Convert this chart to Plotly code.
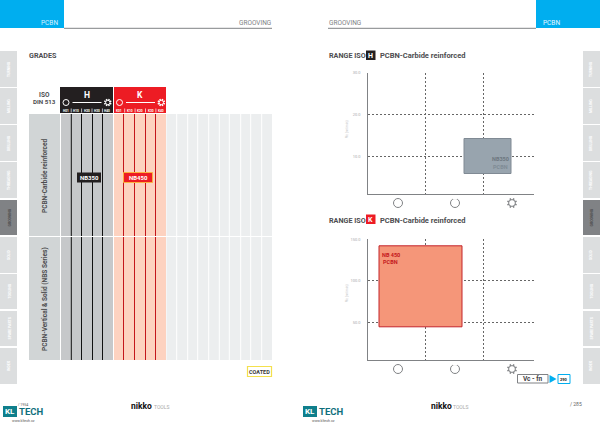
import math
import plotly.graph_objects as go

W, H = 600, 424
FONT = "Roboto"

# ---- data -------------------------------------------------------------
h_ticks = [10, 20, 30]
h_tick_text = ["10.0", "20.0", "30.0"]
k_ticks = [50, 100, 150]
k_tick_text = ["50.0", "100.0", "150.0"]
h_range_x = [1.67, 2.49]
h_range_y = [5.8, 14.1]
k_range_x = [0.20, 1.64]
k_range_y = [43.5, 141.6]
grade_h = "NB350"
grade_k = "NB450"
rows = ["PCBN-Carbide reinforced", "PCBN-Vertical & Solid (NBS Series)"]
h_sub = ["H01", "H10", "H20", "H30", "H40"]
k_sub = ["K01", "K10", "K20", "K30", "K40"]
tabs_left = ["TURNING", "MILLING", "DRILLING", "THREADING", "GROOVING", "SOLID", "TOOLING", "SPARE PARTS", "INDEX"]
tab_tops = [51, 88, 125, 162, 200, 237, 274, 311, 348]
tab_bottoms = [87, 124, 161, 198, 235, 273, 309, 346, 384]
active_tab = 4

def px(x): return x / W
def py(y): return 1 - y / H

shapes, annots = [], []

def rect(x0, y0, x1, y1, fill="rgba(0,0,0,0)", line=None, lw=0, layer="below"):
    shapes.append(dict(type="rect", xref="paper", yref="paper", x0=px(x0), x1=px(x1), y0=py(y0), y1=py(y1),
                       fillcolor=fill, layer=layer, line=dict(color=line or "rgba(0,0,0,0)", width=lw)))

def hline(x0, x1, y, color, w=1, layer="below"):
    shapes.append(dict(type="line", xref="paper", yref="paper", x0=px(x0), x1=px(x1), y0=py(y), y1=py(y),
                       layer=layer, line=dict(color=color, width=w)))

def vline(x, y0, y1, color, w=1, layer="below"):
    shapes.append(dict(type="line", xref="paper", yref="paper", x0=px(x), x1=px(x), y0=py(y0), y1=py(y1),
                       layer=layer, line=dict(color=color, width=w)))

def seg(x0, y0, x1, y1, color, w=1, layer="above"):
    shapes.append(dict(type="line", xref="paper", yref="paper", x0=px(x0), x1=px(x1), y0=py(y0), y1=py(y1),
                       layer=layer, line=dict(color=color, width=w)))

def text(x, y, t, size=8, color="#555", bold=False, anchor="center", angle=0, font=FONT):
    # annotations carry about 2 px of padding on the anchored side
    x = x - 2 if anchor == "left" else x + 1.5 if anchor == "right" else x
    annots.append(dict(xref="paper", yref="paper", x=px(x), y=py(y), text=f"<b>{t}</b>" if bold else t,
                       showarrow=False, xanchor=anchor, yanchor="middle", textangle=angle,
                       font=dict(family=font, size=size, color=color)))

def circle(cx, cy, r, line, w=1, fill="white", layer="above"):
    shapes.append(dict(type="circle", xref="paper", yref="paper", x0=px(cx - r), x1=px(cx + r),
                       y0=py(cy + r), y1=py(cy - r), layer=layer, fillcolor=fill, line=dict(color=line, width=w)))

def gear(cx, cy, r, color, w=1):
    for k in range(8):
        a = math.pi / 8 + k * math.pi / 4
        seg(cx + r * math.cos(a), cy + r * math.sin(a),
            cx + (r + 1.6) * math.cos(a), cy + (r + 1.6) * math.sin(a), color, w + 0.5)
    circle(cx, cy, r, color, w, fill="rgba(0,0,0,0)")

BLUE = "#00aeef"
DARK = "#4d4d4f"
# header bands
rect(0, 0, 64, 28, BLUE)
rect(536, 0, 600, 28, BLUE)
hline(64, 272, 28.3, "#808285", 1)
hline(328, 536, 28.3, "#808285", 1)
text(49, 23, "PCBN", 6.5, "#d5f1ff")
text(551, 23, "PCBN", 6.5, "#e5f7ff")
text(271, 23, "GROOVING", 6.5, "#808285", anchor="right")
text(329, 23, "GROOVING", 6.5, "#808285", anchor="left")

# side tabs
for i, (t, b, lab) in enumerate(zip(tab_tops, tab_bottoms, tabs_left)):
    active = i == active_tab
    c = "#808285" if active else "#dcdedf"
    tc = "#4a4a4a" if active else "#ffffff"
    rect(0, t, 17, b, c)
    rect(583, t, 600, b, c)
    text(9, (t + b) / 2, lab, 3.5, tc, bold=True, angle=-90)
    text(591, (t + b) / 2, lab, 3.5, tc, bold=True, angle=-90)

# grades table
text(29, 56, "GRADES", 7.2, DARK, bold=True, anchor="left")
text(44, 95, "ISO", 6.5, DARK, bold=True)
text(44, 102.5, "DIN 513", 6.2, DARK, bold=True)
rect(29, 114, 60, 360, "#d1d5d6")
rect(61, 114, 113, 360, "#c6c8ca")
rect(114, 114, 166, 360, "#fdd2c0")
rect(166.5, 114, 272, 360, "#eceeef")
for x in [176.7, 187.7, 197.7, 208.7, 219.3, 229.3, 240.7, 250.7, 261.7]:
    vline(x, 114, 360, "white", 1)
for x in [71.3, 81.5, 92.5, 102.5]:
    vline(x, 114, 360, "#111111", 1)
for x in [123.5, 134.5, 145.5, 155.5]:
    vline(x, 114, 360, "#c4161c", 1)
hline(29, 272, 236.5, "white", 1, layer="above")

rect(60, 87, 113, 113, "#231f20")
rect(114, 87, 166, 113, "#ed1c24")
text(87, 95, "H", 8.5, "white", bold=True)
text(140, 95, "K", 8.5, "white", bold=True)
for x0, col, subs in [(60.5, "#231f20", h_sub), (114, "#ed1c24", k_sub)]:
    circle(x0 + 5.5, 102.5, 3, "white", 1, fill=col)
    hline(x0 + 12, x0 + 41, 102.5, "white", 1, layer="above")
    gear(x0 + 47.3, 102.5, 2.2, "white", 1)
    for j, s in enumerate(subs):
        text(x0 + 5.3 + j * 10.4, 110.5, s, 3.2, "white", bold=True)
    for j in range(1, 5):
        vline(x0 + 0.3 + j * 10.4, 108.5, 112.5, "white", 0.7, layer="above")

rect(77, 172.5, 101, 182.5, "#231f20", layer="above")
text(89, 177.5, grade_h, 6, "white", bold=True)
rect(123.5, 172.5, 152.5, 182.5, "#ed1c24", "#fbb040", 1, layer="above")
text(138, 177.5, grade_k, 6, "white", bold=True)
text(45, 176, rows[0], 6.5, DARK, bold=True, angle=-90)
text(45, 299, rows[1], 6.5, DARK, bold=True, angle=-90)
rect(247.5, 366.5, 271.5, 376.5, "#ffffff", "#f4e04d", 1.2)
text(259.5, 371.5, "COATED", 5.5, "#3a3a3a", bold=True)

# right chart titles
text(329, 56, "RANGE ISO", 7.2, DARK, bold=True, anchor="left")
rect(366, 50.5, 375.5, 60, "#231f20")
text(370.7, 55.5, "H", 7, "white", bold=True)
text(380, 56, "PCBN-Carbide reinforced", 7.5, DARK, bold=True, anchor="left")
text(329, 220, "RANGE ISO", 7.2, DARK, bold=True, anchor="left")
rect(366, 214.5, 375.5, 224, "#ed1c24")
text(370.7, 219.5, "K", 7, "white", bold=True)
text(380, 220, "PCBN-Carbide reinforced", 7.5, DARK, bold=True, anchor="left")

# axis titles
text(347, 129, "Vc (m/min)", 3.5, "#bcbec0", angle=-90)
text(347, 293, "Vc (m/min)", 3.5, "#bcbec0", angle=-90)

# material icons under the charts
for y in [203, 369]:
    circle(398, y, 4.5, "#808285", 1)
    circle(455, y, 4.5, "#808285", 1)
    hline(452.5, 457.5, y - 4.5, "white", 1.5, layer="above")
    gear(512, y, 3.4, "#808285", 1)

# reference box
rect(517.5, 374.5, 548, 383, "white", "#808285", 1)
text(533, 378.8, "Vc - fn", 6.5, "#414042", bold=True)
shapes.append(dict(type="path", xref="paper", yref="paper",
                   path=f"M {px(549.5)} {py(375)} L {px(556.5)} {py(379)} L {px(549.5)} {py(383)} Z",
                   fillcolor=BLUE, line=dict(width=0), layer="above"))
rect(558, 374.5, 570, 383.5, "white", BLUE, 1)
text(564, 379, "290", 4, "#222", bold=True)

# footer
for off in [0, 300]:
    rect(3 + off, 406, 17 + off, 417, "#0f7f8c")
    text(10 + off, 411.5, "KL", 8, "white", bold=True)
    text(19 + off, 411.5, "TECH", 9.5, "#0f6f7c", bold=True, anchor="left")
    text(23 + off, 421, "www.kltech.cz", 3.5, "#555")
    text(131 + off, 406, "nikko", 8.5, "#111", bold=True, anchor="left")
    text(153.5 + off, 406.5, "TOOLS", 5, "#aaa", anchor="left")
text(23, 404.5, "/ 1954", 3.5, "#555")
text(576, 404, "/ 285", 5, "#666")

# labels inside the range boxes
for x, y, t, c in [(500, 159.5, "NB350", "#6d7780"), (500, 167, "PCBN", "#7f8b95"),
                   (391, 254.5, "NB 450", "#c4161c"), (391, 261.5, "PCBN", "#c4161c")]:
    text(x, y, t, 5.5, c, bold=True)

# ---- charts -------------------------------------------------------------
fig = go.Figure()
fig.add_trace(go.Bar(x=[(h_range_x[0] + h_range_x[1]) / 2], y=[h_range_y[1] - h_range_y[0]], base=[h_range_y[0]],
                     width=[h_range_x[1] - h_range_x[0]], marker=dict(color="#98a4ae", line=dict(color="#808a94", width=1)),
                     xaxis="x", yaxis="y", showlegend=False, hoverinfo="skip"))
fig.add_trace(go.Bar(x=[(k_range_x[0] + k_range_x[1]) / 2], y=[k_range_y[1] - k_range_y[0]], base=[k_range_y[0]],
                     width=[k_range_x[1] - k_range_x[0]], marker=dict(color="#f59679", line=dict(color="#c4242b", width=1)),
                     xaxis="x2", yaxis="y2", showlegend=False, hoverinfo="skip"))

def axis_common():
    return dict(showline=True, linecolor="#808285", linewidth=1.2, zeroline=False, ticks="", automargin=False,
                griddash="2px,2px", gridcolor="#666666", gridwidth=1, layer="below traces", showgrid=True)

TICKFONT = dict(size=4, color="#a7a9ac", family=FONT)
XD = [367.5 / W, 533.5 / W]
x_range = [0, 166 / 58]
fig.update_layout(
    width=W, height=H, margin=dict(l=0, r=0, t=0, b=0, autoexpand=False), paper_bgcolor="white", plot_bgcolor="white",
    barmode="overlay", bargap=0,
    xaxis=dict(domain=XD, range=x_range, tickvals=[1, 2], ticktext=["", ""], anchor="y", **axis_common()),
    yaxis=dict(domain=[py(194.3), py(73)], range=[0.9, 30], tickvals=h_ticks, ticktext=h_tick_text, anchor="x",
               tickfont=TICKFONT, ticklabelstandoff=5, **axis_common()),
    xaxis2=dict(domain=XD, range=x_range, tickvals=[1, 2], ticktext=["", ""], anchor="y2", **axis_common()),
    yaxis2=dict(domain=[py(360.3), py(239.3)], range=[4.2, 150], tickvals=k_ticks, ticktext=k_tick_text, anchor="x2",
                tickfont=TICKFONT, ticklabelstandoff=5, **axis_common()),
    shapes=shapes,
    annotations=annots,
)
fig.write_html("out.html", config={"displayModeBar": False},
               post_script="document.body.style.margin='0';document.body.style.overflow='hidden';"
                           "var d=document.getElementById('{plot_id}');d.style.position='absolute';d.style.left='0';d.style.top='0';")
